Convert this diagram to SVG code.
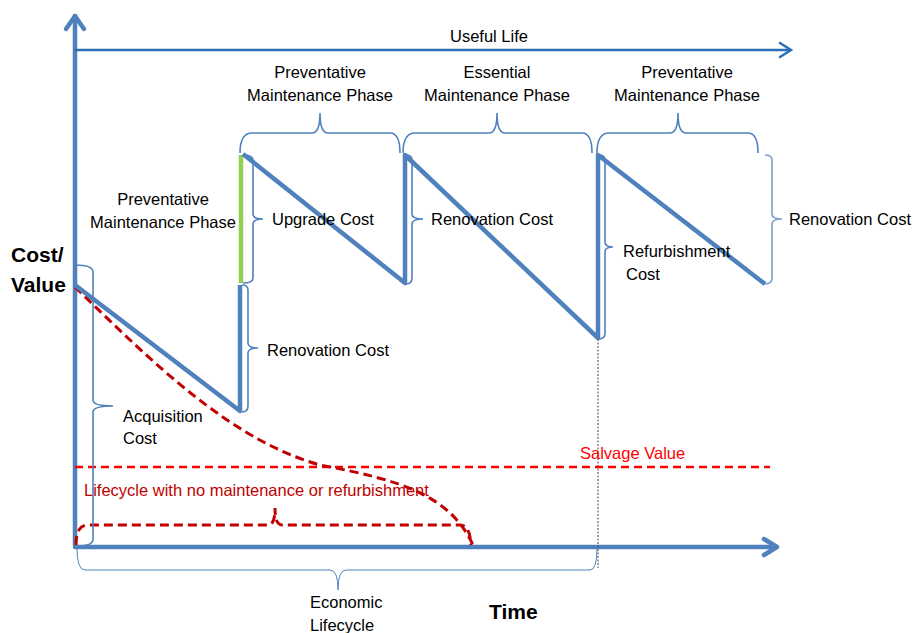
<svg xmlns="http://www.w3.org/2000/svg" width="913" height="633" viewBox="0 0 913 633">
  <style>
    .lbl { font-family: "Liberation Sans", Arial, sans-serif; font-size: 16.5px; fill: #000; }
    .mid { text-anchor: middle; }
    .big { font-size: 21px; font-weight: bold; }
    .axis { fill: none; stroke: #4f81bd; stroke-width: 4.5; stroke-linecap: round; stroke-linejoin: round; }
    .saw { fill: none; stroke: #4f81bd; stroke-width: 4.5; stroke-linejoin: round; }
    .brace { fill: none; stroke: #4f81bd; stroke-width: 1.6; }
    .red { fill: none; stroke: #c00000; stroke-width: 3; stroke-dasharray: 9 5; }
  </style>
  <rect width="913" height="633" fill="#fff"/>

  <!-- axes -->
  <g id="axes">
    <path class="axis" d="M75,545 L75,16"/>
    <polyline class="axis" points="66,29 75,16 84,29"/>
    <path class="axis" d="M75,547 L776,547"/>
    <polyline class="axis" points="764,539 777,547 764,555"/>
  </g>

  <!-- useful life arrow -->
  <g id="useful-life">
    <path d="M75,50 L790,50" fill="none" stroke="#2a6fb8" stroke-width="2.5"/>
    <polyline points="780,43 791,50 780,57" fill="none" stroke="#2a6fb8" stroke-width="2.5" stroke-linecap="round"/>
    <text class="lbl mid" x="489" y="42" font-size="16">Useful Life</text>
  </g>

  <!-- dotted guide at end of economic lifecycle -->
  <path d="M598,290 L598,568" fill="none" stroke="#444" stroke-width="1" stroke-dasharray="2 1.5"/>

  <!-- salvage value -->
  <g id="salvage">
    <path d="M75,467 L770,467" fill="none" stroke="#ff0000" stroke-width="2.5" stroke-dasharray="8 5"/>
    <text class="lbl" x="580" y="459" style="fill:#ff0000">Salvage Value</text>
  </g>

  <!-- value decline with no maintenance -->
  <g id="no-maintenance">
    <path class="red" d="M75,287 C150,360 230,440 320,465 C400,480 450,495 473,545"/>
    <path class="red" d="M76,545 Q76,525 88,525 L268,525 Q275,525 275,508 Q275,525 282,525 L460,525 Q470,525 471,545"/>
    <text class="lbl" x="84" y="496" style="fill:#c00000">Lifecycle with no maintenance or refurbishment</text>
  </g>

  <!-- cost/value sawtooth -->
  <g id="sawtooth">
    <path class="saw" d="M75,285 L240,411 L240,285"/>
    <path d="M241,283 L241,155" fill="none" stroke="#92d050" stroke-width="4.5"/>
    <path class="saw" d="M243,154 L405,283 L405,155 L598,338 L598,155 L765,284"/>
  </g>

  <!-- cost braces -->
  <g id="acquisition">
    <path class="brace" d="M75,265 Q93,265 93,272 L93,400 Q93,406 113,406 Q93,406 93,412 L93,539 Q93,546 78,546"/>
    <text class="lbl" x="123" y="422">Acquisition</text>
    <text class="lbl" x="123" y="444">Cost</text>
  </g>
  <g id="renovation-1">
    <path class="brace" d="M242,285 Q248,285 248,290 L248,343 Q248,348 258,348 Q248,348 248,353 L248,406 Q248,412 242,412"/>
    <text class="lbl" x="267" y="356">Renovation Cost</text>
  </g>
  <g id="upgrade">
    <path class="brace" d="M243,155 Q253,155 253,160 L253,214 Q253,219 263,219 Q253,219 253,224 L253,278 Q253,283 243,283"/>
    <text class="lbl" x="272" y="225">Upgrade Cost</text>
  </g>
  <g id="renovation-2">
    <path class="brace" d="M406,155 Q412,155 412,160 L412,214 Q412,219 423,219 Q412,219 412,224 L412,278 Q412,284 406,284"/>
    <text class="lbl" x="431" y="225">Renovation Cost</text>
  </g>
  <g id="refurbishment">
    <path class="brace" d="M599,155 Q605,155 605,160 L605,242 Q605,247 613,247 Q605,247 605,252 L605,333 Q605,339 599,339"/>
    <text class="lbl" x="623" y="257">Refurbishment</text>
    <text class="lbl" x="626" y="280">Cost</text>
  </g>
  <g id="renovation-3">
    <path d="M765,155 Q772,155 772,160 L772,214 Q772,219 782,219 Q772,219 772,224 L772,278 Q772,284 765,284" fill="none" stroke="#7f9fcf" stroke-width="1.6"/>
    <text class="lbl" x="789" y="225">Renovation Cost</text>
  </g>

  <!-- phase braces -->
  <g id="phase-1">
    <path class="brace" d="M240,153 Q240,133 252,133 L312,133 Q320,133 320,113 Q320,133 328,133 L390,133 Q400,133 400,153"/>
    <text class="lbl mid" x="320" y="78">Preventative</text>
    <text class="lbl mid" x="320" y="101">Maintenance Phase</text>
  </g>
  <g id="phase-2">
    <path class="brace" d="M403,153 Q403,133 415,133 L489,133 Q497,133 497,113 Q497,133 505,133 L582,133 Q592,133 592,153"/>
    <text class="lbl mid" x="497" y="78">Essential</text>
    <text class="lbl mid" x="497" y="101">Maintenance Phase</text>
  </g>
  <g id="phase-3">
    <path class="brace" d="M597,153 Q597,133 609,133 L670,133 Q678,133 678,113 Q678,133 686,133 L748,133 Q758,133 758,153"/>
    <text class="lbl mid" x="687" y="78">Preventative</text>
    <text class="lbl mid" x="687" y="101">Maintenance Phase</text>
  </g>
  <g id="phase-0">
    <text class="lbl mid" x="163" y="205">Preventative</text>
    <text class="lbl mid" x="163" y="228">Maintenance Phase</text>
  </g>

  <!-- economic lifecycle -->
  <g id="economic">
    <path d="M77,548 Q77,570 85,570 L330,570 Q338,570 338,590 Q338,570 346,570 L590,570 Q597,570 597,548" fill="none" stroke="#4f81bd" stroke-width="1"/>
    <text class="lbl" x="310" y="608">Economic</text>
    <text class="lbl" x="310" y="631">Lifecycle</text>
  </g>

  <!-- axis titles -->
  <g id="axis-titles">
    <text class="lbl big" x="11" y="262">Cost/</text>
    <text class="lbl big" x="11" y="292">Value</text>
    <text class="lbl big" x="489" y="619">Time</text>
  </g>
</svg>
